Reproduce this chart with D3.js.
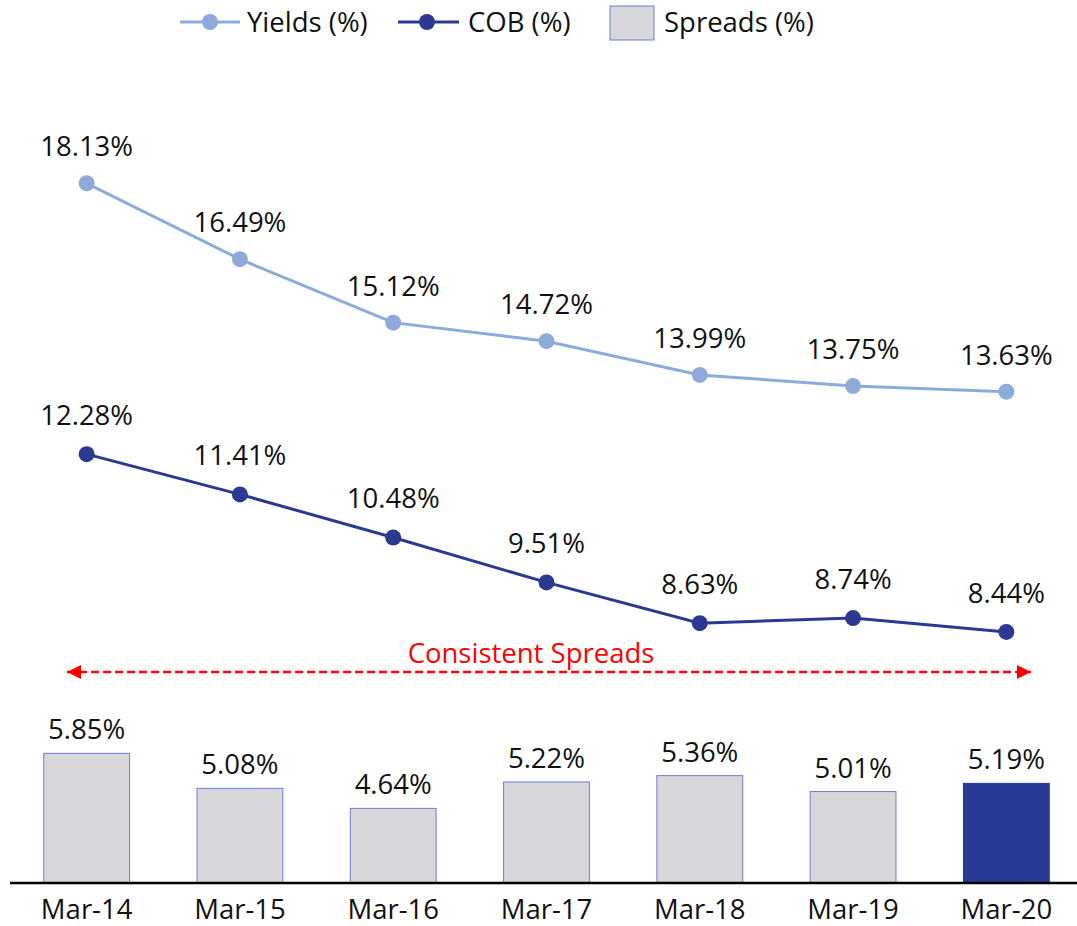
<!DOCTYPE html>
<html><head><meta charset="utf-8">
<script src="https://cdn.jsdelivr.net/npm/d3@7"></script>
<style>body{margin:0;background:#fff}svg{display:block}text{font-family:"Open Sans",sans-serif;fill:#111}</style>
</head><body><svg id="c" width="1077" height="926"></svg>
<script>
const categories = ["Mar-14","Mar-15","Mar-16","Mar-17","Mar-18","Mar-19","Mar-20"];
const yields = [18.13,16.49,15.12,14.72,13.99,13.75,13.63];
const cob = [12.28,11.41,10.48,9.51,8.63,8.74,8.44];
const spreads = [5.85,5.08,4.64,5.22,5.36,5.01,5.19];
const legendLabels = ["Yields (%)","COB (%)","Spreads (%)"];
const annotation = "Consistent Spreads";

const svg = d3.select("#c");
const cYield = "#8eaadb", cCob = "#2b3990", cBar = "#d6d6db", cBarEdge = "#6f7cd2", cLast = "#283996";
const fs = 27.5;

const x = d3.scaleBand().domain(categories).range([10, 1083]).paddingInner(0.44).paddingOuter(0.22);
const cx = d => x(d) + x.bandwidth()/2;
const yLine = d3.scaleLinear().domain([8, 19]).range([652.3, 143.0]);
const yBar = d3.scaleLinear().domain([3, 8]).range([883, 655.5]);

// bars
svg.selectAll("rect.bar").data(spreads).join("rect")
  .attr("x", (d,i) => x(categories[i])).attr("width", x.bandwidth())
  .attr("y", d => yBar(d)).attr("height", d => yBar(3) - yBar(d))
  .attr("fill", (d,i) => i === spreads.length-1 ? cLast : cBar)
  .attr("stroke", (d,i) => i === spreads.length-1 ? cLast : cBarEdge).attr("stroke-width", 1);
svg.selectAll("text.bl").data(spreads).join("text")
  .attr("x", (d,i) => cx(categories[i])).attr("y", d => yBar(d) - 14)
  .attr("text-anchor","middle").attr("font-size", fs).text(d => d.toFixed(2) + "%");

// axis
const ax = svg.append("g").attr("transform","translate(0,883)").call(d3.axisBottom(x).tickSize(0).tickPadding(16.5));
ax.select(".domain").attr("stroke","#000").attr("stroke-width",2.5).attr("d","M10,0H1077");
ax.selectAll("text").attr("font-size", fs).attr("fill","#111").attr("font-family","'Open Sans',sans-serif");

// lines
const line = d3.line().x((d,i) => cx(categories[i])).y(d => yLine(d));
function drawSeries(data, color, off) {
  svg.append("path").datum(data).attr("d", line).attr("fill","none").attr("stroke", color).attr("stroke-width", 3);
  svg.append("g").selectAll("circle").data(data).join("circle")
    .attr("cx",(d,i) => cx(categories[i])).attr("cy", d => yLine(d)).attr("r", 8).attr("fill", color);
  svg.append("g").selectAll("text").data(data).join("text")
    .attr("x",(d,i) => cx(categories[i])).attr("y", d => yLine(d) - off)
    .attr("text-anchor","middle").attr("font-size", fs).text(d => d.toFixed(2) + "%");
}
drawSeries(yields, cYield, 27);
drawSeries(cob, cCob, 29);

// annotation arrow
const defs = svg.append("defs");
defs.append("marker").attr("id","ah").attr("viewBox","0 0 10 10").attr("refX",10).attr("refY",5)
  .attr("markerWidth",16).attr("markerHeight",14).attr("markerUnits","userSpaceOnUse").attr("orient","auto-start-reverse")
  .append("path").attr("d","M0,0L10,5L0,10Z").attr("fill","#ff0000");
svg.append("line").attr("x1",67).attr("x2",1031).attr("y1",672).attr("y2",672)
  .attr("stroke","#ff0000").attr("stroke-width",2.5).attr("stroke-dasharray","8,4")
  .attr("marker-start","url(#ah)").attr("marker-end","url(#ah)");
svg.append("text").attr("x",531).attr("y",663).attr("text-anchor","middle").attr("font-size",fs)
  .style("fill","#ff0000").text(annotation);

// legend
const lg = svg.append("g");
const ly = 22;
lg.append("line").attr("x1",180).attr("x2",240).attr("y1",ly).attr("y2",ly).attr("stroke",cYield).attr("stroke-width",3);
lg.append("circle").attr("cx",210).attr("cy",ly).attr("r",8).attr("fill",cYield);
lg.append("text").attr("x",247).attr("y",ly+10).attr("font-size",fs).text(legendLabels[0]);
lg.append("line").attr("x1",398).attr("x2",459).attr("y1",ly).attr("y2",ly).attr("stroke",cCob).attr("stroke-width",3);
lg.append("circle").attr("cx",427).attr("cy",ly).attr("r",8).attr("fill",cCob);
lg.append("text").attr("x",468).attr("y",ly+10).attr("font-size",fs).text(legendLabels[1]);
lg.append("rect").attr("x",610).attr("y",6).attr("width",44).attr("height",34).attr("fill",cBar).attr("stroke",cBarEdge).attr("stroke-width",1);
lg.append("text").attr("x",664).attr("y",ly+10).attr("font-size",fs).text(legendLabels[2]);
</script></body></html>
